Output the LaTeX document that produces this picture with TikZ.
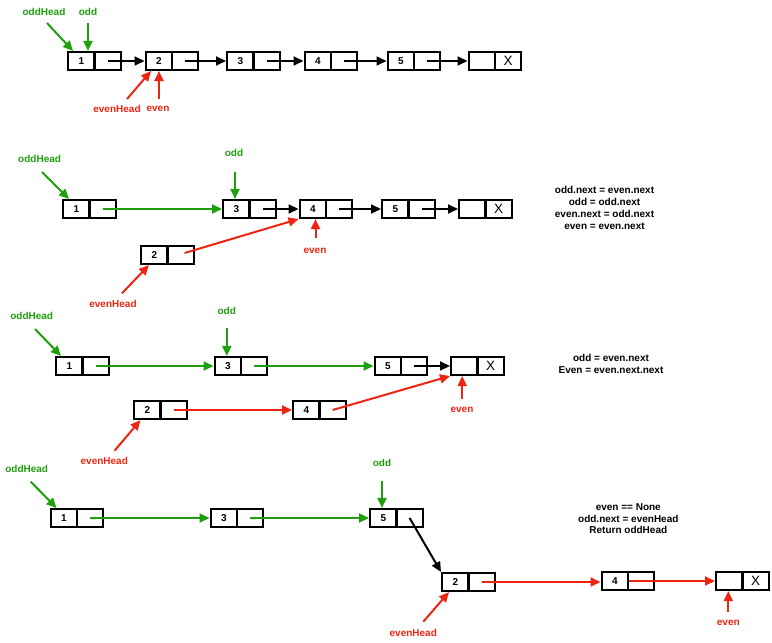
\documentclass[tikz,border=0pt]{standalone}
\usepackage{fontspec}
\setmainfont{Liberation Sans}
\usetikzlibrary{arrows.meta}
\definecolor{ptrgreen}{RGB}{30,160,12}
\definecolor{ptrred}{RGB}{238,36,18}
\tikzset{
  cell/.style={draw=black, line width=2.3pt, minimum width=26.3pt, minimum height=17.8pt,
    inner sep=0pt, font=\bfseries\fontsize{10}{12}\selectfont},
  xcell/.style={cell, font=\fontsize{13.5}{14}\selectfont},
  link/.style={line width=2pt, -{Triangle[length=10pt,width=9pt]}},
  blink/.style={link, black},
  glink/.style={link, ptrgreen},
  rlink/.style={link, ptrred},
  glabel/.style={text=ptrgreen, inner sep=0pt, font=\bfseries\fontsize{10}{12}\selectfont},
  rlabel/.style={text=ptrred, inner sep=0pt, font=\bfseries\fontsize{10}{12}\selectfont},
  note/.style={align=center, inner sep=0pt, font=\bfseries\fontsize{10}{11.9}\selectfont}
}
\newcommand\llbox[4]{%
  \node[cell] (#1) at ({#2+14.3},#3) {#4};
  \node[cell] (#1n) at ({#2+40.6},#3) {};
}
\newcommand\llend[3]{%
  \node[cell] (#1) at ({#2+14.3},#3) {};
  \node[xcell] (#1n) at ({#2+40.6},#3) {X};
}
\begin{document}
\begin{tikzpicture}[x=1pt,y=-1pt]
\useasboundingbox (0,0) rectangle (772,643);

% ---------- Row 1 ----------
\llbox{r1a}{67}{61}{1}
\llbox{r1b}{144.5}{61}{2}
\llbox{r1c}{226}{61}{3}
\llbox{r1d}{303.5}{61}{4}
\llbox{r1e}{386.5}{61}{5}
\llend{r1x}{467.5}{61}
\draw[blink] (r1an.center) -- (r1b.west);
\draw[blink] (r1bn.center) -- (r1c.west);
\draw[blink] (r1cn.center) -- (r1d.west);
\draw[blink] (r1dn.center) -- (r1e.west);
\draw[blink] (r1en.center) -- (r1x.west);
\node[glabel] (l1oh) at (44,11.5) {oddHead};
\node[glabel] (l1o) at (88,11.5) {odd};
\node[rlabel] (l1eh) at (117,109) {evenHead};
\node[rlabel] (l1e) at (158,109) {even};
\coordinate (t1oh) at (47,23);
\coordinate (t1o) at (88,23);
\coordinate (t1eh) at (127,99);
\coordinate (t1e) at (159,99);
\draw[glink] (t1oh) -- ([xshift=6pt]r1a.north west);
\draw[glink] (t1o) -- ([xshift=21pt]r1a.north west);
\draw[rlink] (t1eh) -- ([xshift=6.5pt]r1b.south west);
\draw[rlink] (t1e) -- ([xshift=14.5pt]r1b.south west);

% ---------- Row 2 ----------
\llbox{r2a}{62}{209}{1}
\llbox{r2c}{222}{209}{3}
\llbox{r2d}{298.5}{209}{4}
\llbox{r2e}{381}{209}{5}
\llend{r2x}{458}{209}
\llbox{r2b}{140}{255}{2}
\draw[glink] (r2an.center) -- (r2c.west);
\draw[blink] (r2cn.center) -- (r2d.west);
\draw[blink] (r2dn.center) -- (r2e.west);
\draw[blink] (r2en.center) -- (r2x.west);
\draw[rlink] ([xshift=4pt,yshift=2pt]r2bn.center) -- (r2d.south west);
\node[glabel] (l2oh) at (39.6,159.3) {oddHead};
\node[glabel] (l2o) at (234,153) {odd};
\node[rlabel] (l2e) at (315,250.7) {even};
\node[rlabel] (l2eh) at (113,304.3) {evenHead};
\coordinate (t2oh) at (42,172);
\coordinate (t2o) at (235,172);
\coordinate (t2e) at (315.5,238.3);
\coordinate (t2eh) at (122,293.3);
\draw[glink] (t2oh) -- ([xshift=7pt]r2a.north west);
\draw[glink] (t2o) -- (t2o |- r2c.north);
\draw[rlink] (t2e) -- (t2e |- r2d.south);
\draw[rlink] (t2eh) -- ([xshift=9pt]r2b.south west);
\node[note] (n2) at (604.5,208) {odd.next = even.next\\odd = odd.next\\even.next = odd.next\\even = even.next};

% ---------- Row 3 ----------
\llbox{r3a}{55}{366}{1}
\llbox{r3c}{213.5}{366}{3}
\llbox{r3e}{373.5}{366}{5}
\llend{r3x}{450}{366}
\llbox{r3b}{133}{410}{2}
\llbox{r3d}{292}{410}{4}
\draw[glink] (r3an.center) -- (r3c.west);
\draw[glink] (r3cn.center) -- (r3e.west);
\draw[blink] (r3en.center) -- (r3x.west);
\draw[rlink] (r3bn.center) -- (r3d.west);
\draw[rlink] (r3dn.center) -- (r3x.south west);
\node[glabel] (l3oh) at (31.7,315.7) {oddHead};
\node[glabel] (l3o) at (226.8,310.7) {odd};
\node[rlabel] (l3e) at (462,410) {even};
\node[rlabel] (l3eh) at (104.3,460.7) {evenHead};
\coordinate (t3oh) at (35,329);
\coordinate (t3o) at (226.8,327.7);
\coordinate (t3e) at (462.2,399);
\coordinate (t3eh) at (114.6,450.7);
\draw[glink] (t3oh) -- ([xshift=6pt]r3a.north west);
\draw[glink] (t3o) -- (t3o |- r3c.north);
\draw[rlink] (t3e) -- (t3e |- r3x.south);
\draw[rlink] (t3eh) -- ([xshift=7.5pt]r3b.south west);
\node[note] (n3) at (611,364.2) {odd = even.next\\Even = even.next.next};

% ---------- Row 4 ----------
\llbox{r4a}{49.5}{518}{1}
\llbox{r4c}{209.5}{518}{3}
\llbox{r4e}{369}{518}{5}
\llbox{r4b}{441}{582}{2}
\llbox{r4d}{600.5}{581}{4}
\llend{r4x}{715}{581}
\draw[glink] (r4an.center) -- (r4c.west);
\draw[glink] (r4cn.center) -- (r4e.west);
\draw[blink] (r4en.center) -- (r4b.north west);
\draw[rlink] (r4bn.center) -- (r4bn.center -| r4d.west);
\draw[rlink] (r4d.east) -- (r4x.west);
\node[glabel] (l4oh) at (26.7,469) {oddHead};
\node[glabel] (l4o) at (382,462.7) {odd};
\node[rlabel] (l4e) at (728.3,622.7) {even};
\node[rlabel] (l4eh) at (413.3,632.7) {evenHead};
\coordinate (t4oh) at (30.7,481.7);
\coordinate (t4o) at (382,481);
\coordinate (t4e) at (728.3,611.7);
\coordinate (t4eh) at (423.3,621.7);
\draw[glink] (t4oh) -- ([xshift=7pt]r4a.north west);
\draw[glink] (t4o) -- (t4o |- r4e.north);
\draw[rlink] (t4e) -- (t4e |- r4x.south);
\draw[rlink] (t4eh) -- ([xshift=8pt]r4b.south west);
\node[note] (n4) at (628.3,518.7) {even == None\\odd.next = evenHead\\Return oddHead};
\end{tikzpicture}
\end{document}
